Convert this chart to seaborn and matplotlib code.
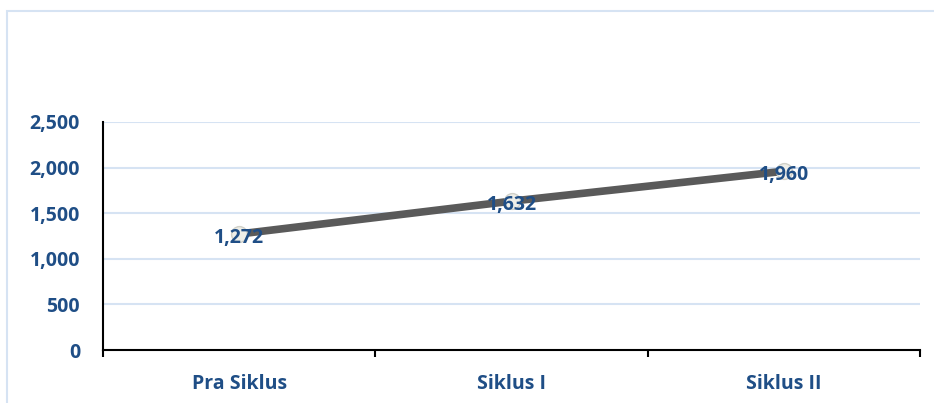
import matplotlib
matplotlib.use("Agg")
import matplotlib.pyplot as plt
import seaborn as sns
import pandas as pd
from matplotlib.patches import Rectangle

categories = ["Pra Siklus", "Siklus I", "Siklus II"]
values = [1272, 1632, 1960]
yticks = [0, 500, 1000, 1500, 2000, 2500]

df = pd.DataFrame({"cat": categories, "val": values})

sns.set_theme(style="white")
plt.rcParams['font.family'] = ['Open Sans', 'DejaVu Sans']

text_color = "#1F4E86"
grid_color = "#D6E3F3"
fs = 14

fig = plt.figure(figsize=(9.34, 4.03), dpi=100)
ax = fig.add_axes([103/934, 53/403, 817/934, 228/403])

# outer light-blue frame
fig.patches.append(Rectangle((7/934, -0.1), 1.2, (403-11)/403 + 0.1, transform=fig.transFigure,
                             fill=False, edgecolor=grid_color, linewidth=1.5, zorder=0))

for y in yticks[1:]:
    ax.axhline(y, color=grid_color, linewidth=1.5, zorder=0)

sns.lineplot(data=df, x="cat", y="val", ax=ax, color="#5A5A5A", linewidth=5.5,
             sort=False, zorder=3)
ax.scatter(range(len(values)), values, s=130, color="#EEEEE8", edgecolor="#D0D0C8",
           linewidth=1, zorder=3.5)

for i, v in enumerate(values):
    ax.text(i, v - 40, f"{v:,}", ha="center", va="center", color=text_color,
            fontsize=fs, fontweight="bold", zorder=4)

ax.set_xlim(-0.5, 2.5)
ax.set_ylim(0, 2500)
ax.set_yticks(yticks)
ax.set_yticklabels([f"{t:,}" for t in yticks], color=text_color, fontsize=fs, fontweight="bold")
ax.set_xticks([0, 1, 2])
ax.set_xticklabels(categories, color=text_color, fontsize=fs, fontweight="bold")
ax.tick_params(axis="x", which="major", length=0, pad=17)
ax.set_xticks([-0.5, 0.5, 1.5, 2.5], minor=True)
ax.tick_params(axis="x", which="minor", length=5, width=1.5, color="black", direction="out", bottom=True)
ax.tick_params(axis="y", length=0, pad=16.5)
ax.set_xlabel("")
ax.set_ylabel("")

for s in ["top", "right"]:
    ax.spines[s].set_visible(False)
ax.spines["left"].set_color("black")
ax.spines["left"].set_linewidth(1.5)
ax.spines["bottom"].set_color("black")
ax.spines["bottom"].set_linewidth(1.5)

fig.savefig("out.png", dpi=100)
